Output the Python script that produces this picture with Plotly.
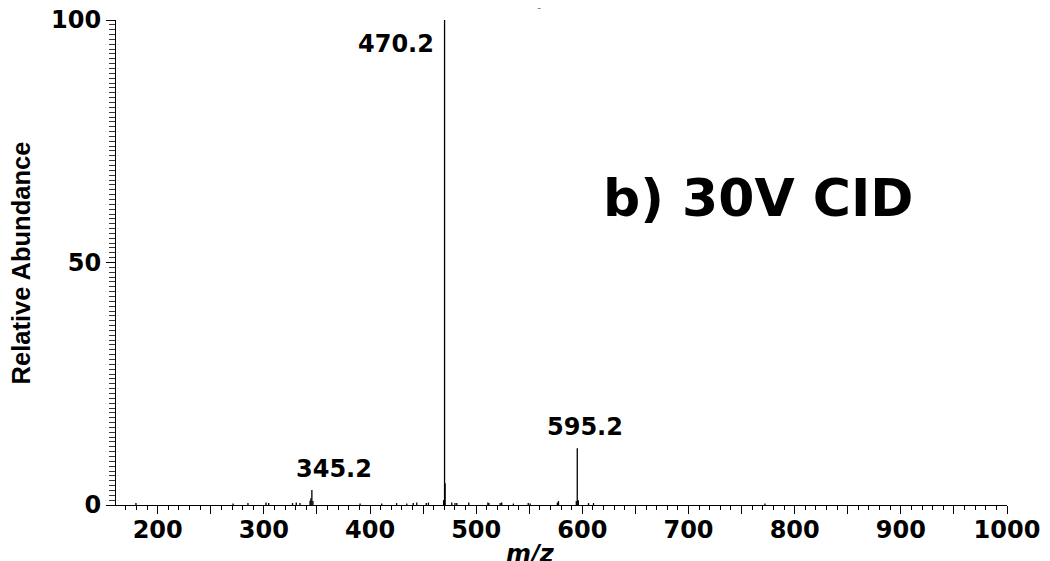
import plotly.graph_objects as go

# ---- data ----
mz = [179.5, 271.0, 285.0, 302.0, 304.5, 327.0, 330.5, 334.0, 343.5, 344.3,
      345.2, 346.2, 390.6, 411.0, 425.0, 434.6, 440.7, 444.0, 453.0, 455.0,
      469.3, 470.2, 470.7, 477.0, 480.0, 481.7, 493.0, 511.0, 512.0, 522.6,
      524.0, 535.0, 549.0, 550.8, 576.5, 577.5, 594.3, 595.2, 596.2, 605.8,
      610.5, 772.0]
abundance = [0.4, 0.3, 0.4, 0.5, 0.4, 0.4, 0.5, 0.4, 0.9, 1.4,
             3.1, 0.8, 0.3, 0.3, 0.4, 0.3, 0.4, 0.5, 0.4, 0.5,
             1.0, 100.0, 4.5, 0.5, 0.4, 0.4, 0.5, 0.5, 0.4, 0.4,
             0.5, 0.3, 0.4, 0.3, 0.5, 0.8, 0.8, 11.7, 1.0, 0.4,
             0.4, 0.3]

label_mz = [345.2, 470.2, 595.2]
label_x = [365.7, 424.6, 602.7]
label_y = [7.5, 95.0, 16.1]

x_range = [160.7, 1000]
x_tickvals = list(range(200, 1001, 50))
x_ticktext = [str(v) if v % 100 == 0 else "" for v in x_tickvals]
y_tickvals = [0, 50, 100]

panel_label = "b) 30V CID"

# ---- build stick spectrum through the axes ----
xs, ys = [], []
for m, a in zip(mz, abundance):
    xs += [m, m, None]
    ys += [0, a, None]

fig = go.Figure()
fig.add_trace(go.Scatter(x=xs, y=ys, mode="lines",
                         line=dict(color="black", width=1.3),
                         hoverinfo="skip", showlegend=False))

FONT = "DejaVu Sans"
annotations = []
for m, lx, ly in zip(label_mz, label_x, label_y):
    annotations.append(dict(x=lx, y=ly, xref="x", yref="y", text=f"<b>{m:.1f}</b>",
                            showarrow=False, xanchor="center", yanchor="middle",
                            font=dict(family=FONT, size=24, color="black")))
annotations.append(dict(x=765.5, y=63.4, xref="x", yref="y", text=f"<b>{panel_label}</b>",
                        showarrow=False, xanchor="center", yanchor="middle",
                        font=dict(family=FONT, size=52, color="black")))
annotations.append(dict(x=-0.1067, y=0.5, xref="paper", yref="paper",
                        text="<b>Relative Abundance</b>", textangle=-90,
                        showarrow=False, xanchor="center", yanchor="middle",
                        font=dict(family="Liberation Sans", size=25.5, color="black")))
annotations.append(dict(x=0.465, y=-0.1, xref="paper", yref="paper",
                        text="<b><i>m/z</i></b>", showarrow=False,
                        xanchor="center", yanchor="middle",
                        font=dict(family=FONT, size=24, color="black")))
annotations.append(dict(x=0.475, y=1.045, xref="paper", yref="paper",
                        text="<b><i>m/z</i></b>", showarrow=False,
                        xanchor="center", yanchor="middle",
                        font=dict(family=FONT, size=24, color="black")))

# page body has an 8px margin, so the figure is sized/offset to compensate
fig.update_layout(
    width=1042, height=553,
    margin=dict(l=108, r=43, t=12, b=56, pad=0, autoexpand=False),
    paper_bgcolor="white", plot_bgcolor="white",
    annotations=annotations,
    xaxis=dict(range=x_range, tickmode="array", tickvals=x_tickvals, ticktext=x_ticktext,
               automargin=False, ticklabeloverflow="allow", ticklabelstandoff=-5,
               ticks="outside", ticklen=8, tickwidth=1, tickcolor="black",
               showline=True, linecolor="black", linewidth=1,
               showgrid=False, zeroline=False,
               tickfont=dict(family=FONT, size=24, color="black", weight="bold"),
               minor=dict(dtick=10, tick0=0, ticks="outside", ticklen=4,
                          tickwidth=1, tickcolor="black", showgrid=False)),
    yaxis=dict(range=[0, 100], tickmode="array", tickvals=y_tickvals,
               automargin=False, ticklabeloverflow="allow",
               ticks="outside", ticklen=9, tickwidth=1, tickcolor="black",
               showline=True, linecolor="black", linewidth=1,
               showgrid=False, zeroline=False,
               tickfont=dict(family=FONT, size=24, color="black", weight="bold"),
               minor=dict(dtick=1, tick0=0, ticks="outside", ticklen=6,
                          tickwidth=1, tickcolor="#333333", showgrid=False)),
)

fig.write_html("out.html")
